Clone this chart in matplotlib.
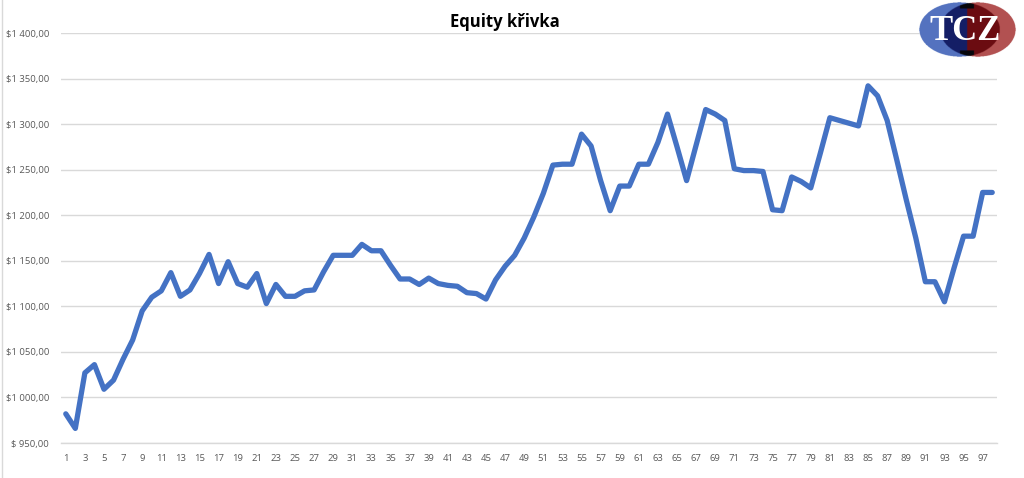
import numpy as np
import matplotlib
matplotlib.use("Agg")
import matplotlib.pyplot as plt

title = "Equity křivka"
periods = list(range(1, 99))
equity = [982, 966, 1027, 1036, 1009, 1019, 1042, 1063, 1095, 1110,
          1117, 1137, 1111, 1118, 1136, 1157, 1125, 1149, 1125, 1121,
          1136, 1103, 1124, 1111, 1111, 1117, 1118, 1138, 1156, 1156,
          1156, 1168, 1161, 1161, 1145, 1130, 1130, 1124, 1131, 1125,
          1123, 1122, 1115, 1114, 1108, 1129, 1144, 1156, 1175, 1198,
          1224, 1255, 1256, 1256, 1289, 1276, 1238, 1205, 1232, 1232,
          1256, 1256, 1280, 1311, 1275, 1238, 1277, 1316, 1311, 1304,
          1251, 1249, 1249, 1248, 1206, 1205, 1242, 1237, 1230, 1268,
          1307, 1304, 1301, 1298, 1342, 1331, 1304, 1261, 1217, 1175,
          1127, 1127, 1105, 1142, 1177, 1177, 1225, 1225]
y_ticks = [950, 1000, 1050, 1100, 1150, 1200, 1250, 1300, 1350, 1400]
y_tick_labels = ["$ 950,00", "$1 000,00", "$1 050,00", "$1 100,00", "$1 150,00",
                 "$1 200,00", "$1 250,00", "$1 300,00", "$1 350,00", "$1 400,00"]
x_tick_positions = list(range(1, 99, 2))
logo_text = "TCZ"

W, H = 1024, 478
fig = plt.figure(figsize=(W / 100, H / 100), dpi=100)
fig.patch.set_facecolor("white")

ax = fig.add_axes([61 / W, 1 - 443 / H, (997 - 61) / W, (443 - 33) / H])
ax.plot(periods, equity, color="#4472C4", linewidth=3.8,
        solid_joinstyle="round", solid_capstyle="round", zorder=3)
ax.set_xlim(0.5, 98.5)
ax.set_ylim(950, 1400)
ax.set_yticks(y_ticks)
ax.set_yticklabels(y_tick_labels)
ax.set_xticks(x_tick_positions)
ax.set_xticklabels([str(v) for v in x_tick_positions])
ax.grid(axis="y", color="#d9d9d9", linewidth=1.0, zorder=0)
ax.grid(axis="x", visible=False)
for s in ["top", "right", "left"]:
    ax.spines[s].set_visible(False)
ax.spines["bottom"].set_color("#d9d9d9")
ax.spines["bottom"].set_linewidth(1.0)
ax.tick_params(axis="both", length=0, colors="#595959", labelsize=6.8)
ax.tick_params(axis="y", pad=8.5)
ax.tick_params(axis="x", pad=8)
for lab in ax.get_xticklabels() + ax.get_yticklabels():
    lab.set_fontfamily("Open Sans")

fig.text(505 / W, 1 - 22 / H, title, ha="center", va="center",
         fontsize=12, fontweight="bold", fontfamily="Open Sans", color="#000000")

# left chart border
fig.add_artist(plt.Line2D([2 / W, 2 / W], [0, 1], color="#d9d9d9", linewidth=1.0,
                          transform=fig.transFigure))

# logo
lx0, lx1, ly0, ly1 = 916, 1019, 1, 59
lax = fig.add_axes([lx0 / W, 1 - ly1 / H, (lx1 - lx0) / W, (ly1 - ly0) / H])
lax.set_axis_off()
nx, ny = 300, 170
xs = np.linspace(lx0, lx1, nx)
ys = np.linspace(ly0, ly1, ny)
X, Y = np.meshgrid(xs, ys)
cy = 29.5
inB = ((X - 959.5) / 40.5) ** 2 + ((Y - cy) / 27.5) ** 2 <= 1
inR = ((X - 978) / 38) ** 2 + ((Y - cy) / 27.5) ** 2 <= 1
img = np.ones((ny, nx, 4))
img[..., 3] = 0
blue = np.array([0.33, 0.45, 0.75, 1])
red = np.array([0.70, 0.32, 0.32, 1])
navy = np.array([0.08, 0.12, 0.40, 1])
maroon = np.array([0.42, 0.05, 0.07, 1])
black = np.array([0.03, 0.03, 0.05, 1])
img[inB & ~inR] = blue
img[inR & ~inB] = red
both = inB & inR
img[both & (X < 967)] = navy
img[both & (X >= 967)] = maroon
img[both & (np.abs(X - 967) < 7) & (np.abs(Y - cy) > 21)] = black
lax.imshow(img, extent=[lx0, lx1, ly1, ly0], interpolation="bilinear", aspect="auto")
lax.set_xlim(lx0, lx1)
lax.set_ylim(ly1, ly0)
lax.text(965, 31.5, logo_text, ha="center", va="center", color="white",
         fontsize=25, fontweight="bold", fontfamily="Liberation Serif")

fig.savefig("out.png", dpi=100, facecolor="white")
